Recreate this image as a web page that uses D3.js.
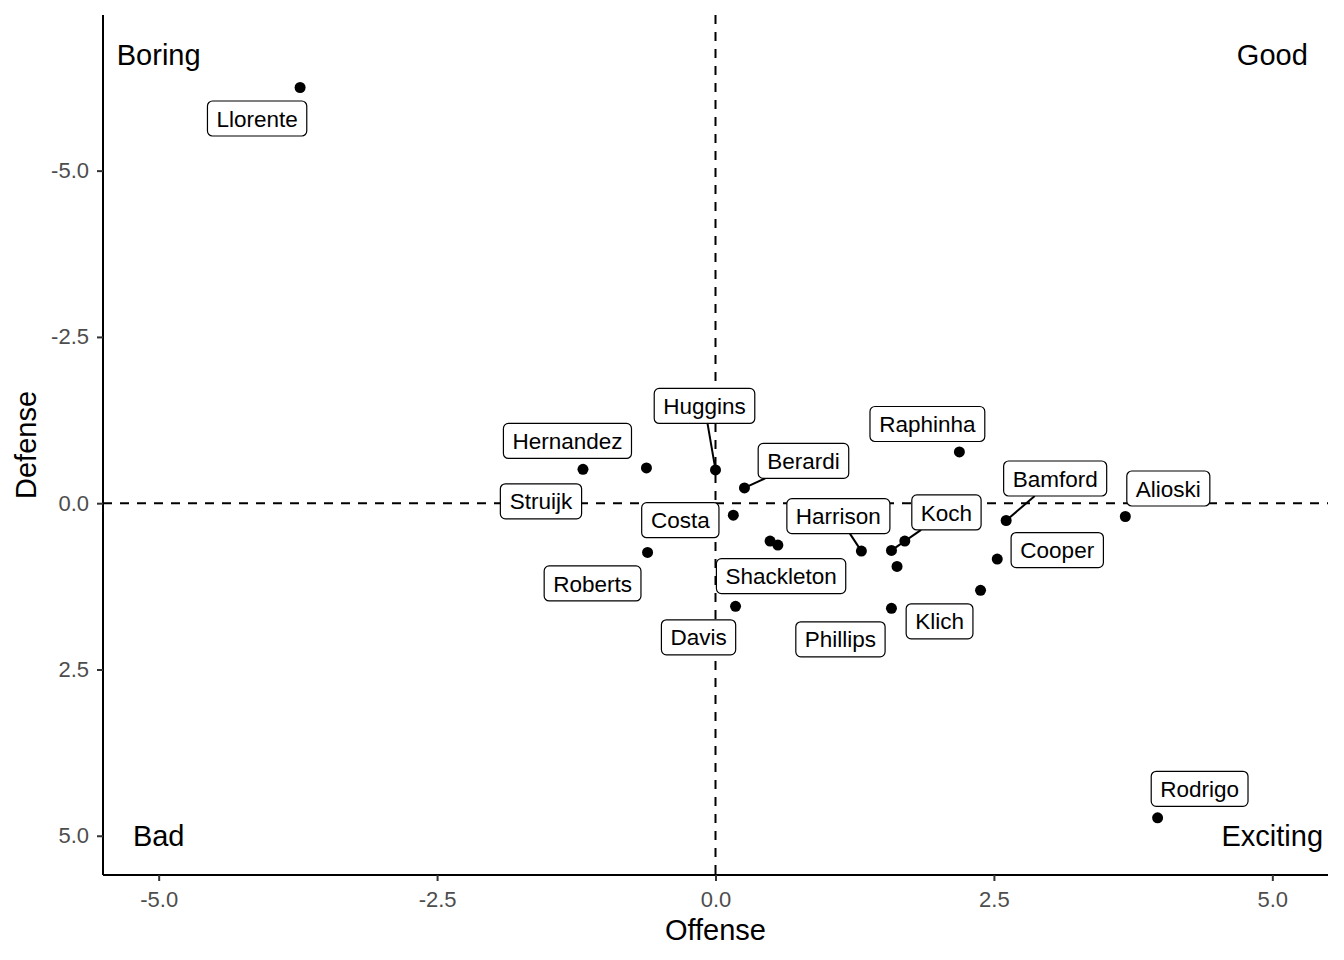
<!DOCTYPE html>
<html>
<head>
<meta charset="utf-8">
<script src="https://cdn.jsdelivr.net/npm/d3@7"></script>
<style>
  body { margin: 0; background: #fff; }
  text { font-family: "Liberation Sans", Arial, Helvetica, sans-serif; }
</style>
</head>
<body>
<svg id="chart" width="1344" height="960"></svg>
<script>
// player values (offense / defense)
var players = ["Llorente", "Struijk", "Hernandez", "Huggins", "Berardi", "Costa", "Roberts",
               "Shackleton", "", "Davis", "Harrison", "Koch", "", "", "Phillips",
               "Raphinha", "Bamford", "Cooper", "Klich", "Alioski", "Rodrigo"];
var offense = [-3.73, -1.19, -0.62, 0.00, 0.26, 0.16, -0.61,
               0.49, 0.56, 0.18, 1.31, 1.58, 1.70, 1.63, 1.58,
               2.19, 2.61, 2.53, 2.38, 3.68, 3.97];
var defense = [-6.25, -0.51, -0.53, -0.50, -0.23, 0.18, 0.74,
               0.57, 0.63, 1.55, 0.72, 0.71, 0.57, 0.95, 1.58,
               -0.77, 0.26, 0.84, 1.31, 0.20, 4.73];

var xTicks = [-5, -2.5, 0, 2.5, 5];
var yTicks = [-5, -2.5, 0, 2.5, 5];

var quadrants = ["Boring", "Good", "Bad", "Exciting"];
var quadX = [-5, 5, -5, 5];
var quadY = [-6.75, -6.75, 5, 5];

// repel result: label offset from its point (px) and whether a segment is drawn
var labelLayout = {
  "Llorente":   { dx: -43, dy: 31 },
  "Struijk":    { dx: -42, dy: 32 },
  "Hernandez":  { dx: -79, dy: -27 },
  "Huggins":    { dx: -11, dy: -64, seg: true },
  "Berardi":    { dx: 59, dy: -27, seg: true },
  "Costa":      { dx: -53, dy: 5 },
  "Roberts":    { dx: -55, dy: 31 },
  "Shackleton": { dx: 11, dy: 35 },
  "Davis":      { dx: -37, dy: 31 },
  "Harrison":   { dx: -23, dy: -35, seg: true },
  "Koch":       { dx: 55, dy: -38, seg: true },
  "Phillips":   { dx: -51, dy: 31 },
  "Klich":      { dx: -41, dy: 31 },
  "Raphinha":   { dx: -32, dy: -28 },
  "Bamford":    { dx: 49, dy: -42, seg: true },
  "Cooper":     { dx: 60, dy: -9 },
  "Alioski":    { dx: 43, dy: -28 },
  "Rodrigo":    { dx: 42, dy: -29 }
};

(function () {
  var svg = d3.select("#chart");
  var pLeft = 103, pRight = 1328, pTop = 15, pBottom = 875;

  var x = d3.scaleLinear().domain([-5.5, 5.5]).range([pLeft, pRight]);
  var y = d3.scaleLinear().domain([-7.34, 5.59]).range([pTop, pBottom]);

  var fmt = function (v) { return d3.format(".1f")(v).replace("\u2212", "-"); };

  // reference lines
  svg.append("line")
     .attr("x1", x(0)).attr("x2", x(0)).attr("y1", pTop).attr("y2", pBottom)
     .attr("stroke", "#000").attr("stroke-width", 2).attr("stroke-dasharray", "9,8");
  svg.append("line")
     .attr("x1", pLeft).attr("x2", pRight).attr("y1", y(0)).attr("y2", y(0))
     .attr("stroke", "#000").attr("stroke-width", 2).attr("stroke-dasharray", "9,8");

  // axes
  var xAxis = svg.append("g").attr("transform", "translate(0," + pBottom + ")")
     .call(d3.axisBottom(x).tickValues(xTicks).tickFormat(fmt).tickSize(6).tickPadding(10));
  var yAxis = svg.append("g").attr("transform", "translate(" + pLeft + ",0)")
     .call(d3.axisLeft(y).tickValues(yTicks).tickFormat(fmt).tickSize(6).tickPadding(8));
  [xAxis, yAxis].forEach(function (a) {
    a.select(".domain").attr("stroke", "#000").attr("stroke-width", 2);
    a.selectAll(".tick line").attr("stroke", "#333").attr("stroke-width", 2);
    a.selectAll(".tick text").attr("fill", "#4d4d4d").style("font-size", "22px");
  });
  xAxis.selectAll(".tick text").attr("dy", "0.72em");
  xAxis.select(".domain").attr("d", "M" + pLeft + ",0H" + pRight);
  yAxis.select(".domain").attr("d", "M0," + pTop + "V" + pBottom);

  svg.append("text").attr("x", x(0)).attr("y", 940).attr("text-anchor", "middle")
     .style("font-size", "29px").text("Offense");
  svg.append("text").attr("transform", "translate(36," + ((pTop + pBottom) / 2) + ") rotate(-90)")
     .attr("text-anchor", "middle").style("font-size", "29px").text("Defense");

  // quadrant names
  svg.selectAll(".quad").data(quadrants).enter().append("text")
     .attr("class", "quad")
     .attr("x", function (d, i) { return x(quadX[i]); })
     .attr("y", function (d, i) { return y(quadY[i]); })
     .attr("dy", "0.36em").attr("text-anchor", "middle")
     .style("font-size", "29px").text(function (d) { return d; });

  var pts = players.map(function (p, i) { return { name: p, px: x(offense[i]), py: y(defense[i]) }; });

  // labels
  var labeled = pts.filter(function (d) { return labelLayout[d.name]; });
  var lab = svg.selectAll(".lab").data(labeled).enter().append("g").attr("class", "lab");

  lab.append("text")
     .attr("x", function (d) { return d.px + labelLayout[d.name].dx; })
     .attr("y", function (d) { return d.py + labelLayout[d.name].dy; })
     .attr("dy", "0.36em").attr("text-anchor", "middle")
     .style("font-size", "22.5px").text(function (d) { return d.name; })
     .each(function (d) { d.bb = this.getBBox(); });

  lab.each(function (d) {
    var g = d3.select(this);
    var padX = 9, h = 35;
    var cx = d.px + labelLayout[d.name].dx, cy = d.py + labelLayout[d.name].dy;
    var w = d.bb.width + 2 * padX;
    var bx = cx - w / 2, by = cy - h / 2;
    if (labelLayout[d.name].seg) {
      // clip the centre-to-point line at the box border
      var ddx = d.px - cx, ddy = d.py - cy;
      var t = Math.min(Math.abs((w / 2) / (ddx || 1e-9)), Math.abs((h / 2) / (ddy || 1e-9)));
      var sx = cx + ddx * t, sy = cy + ddy * t;
      g.insert("line", "text").attr("x1", sx).attr("y1", sy).attr("x2", d.px).attr("y2", d.py)
       .attr("stroke", "#000").attr("stroke-width", 2);
    }
    g.insert("rect", "text")
     .attr("x", bx).attr("y", by).attr("width", w).attr("height", h)
     .attr("rx", 5).attr("ry", 5)
     .attr("fill", "#fff").attr("stroke", "#000").attr("stroke-width", 1.2);
  });

  // points
  svg.selectAll(".pt").data(pts).enter().append("circle")
     .attr("class", "pt")
     .attr("cx", function (d) { return d.px; })
     .attr("cy", function (d) { return d.py; })
     .attr("r", 5.5).attr("fill", "#000");
})();
</script>
</body>
</html>
